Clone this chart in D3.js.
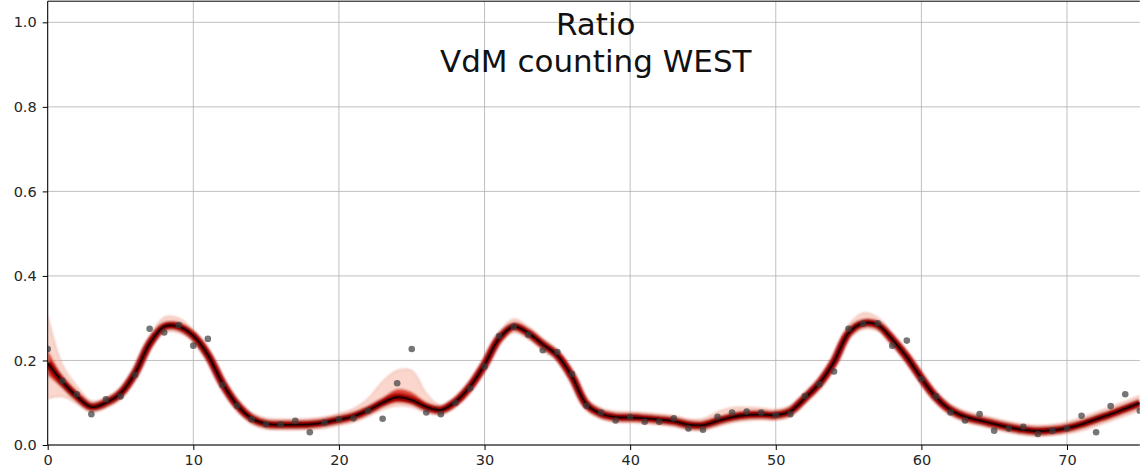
<!DOCTYPE html>
<html>
<head>
<meta charset="utf-8">
<script src="https://cdn.jsdelivr.net/npm/d3@7"></script>
<style>
  html, body { margin: 0; padding: 0; background: #fff; }
  svg { display: block; }
  text { font-family: "DejaVu Sans", sans-serif; }
</style>
</head>
<body>
<svg id="chart" width="1140" height="475"></svg>
<script>
// Bunch index along the scan
const bunch = d3.range(0, 76);

// Measured ratio per bunch (grey markers)
const measured = [
  0.227, 0.152, 0.120, 0.073, 0.108, 0.115, 0.166, 0.275, 0.266, 0.284,
  0.235, 0.251, 0.142, 0.093, 0.061, 0.049, 0.049, 0.057, 0.030, 0.053,
  0.061, 0.063, 0.081, 0.062, 0.146, 0.227, 0.077, 0.073, 0.100, 0.134,
  0.186, 0.258, 0.280, 0.261, 0.224, 0.220, 0.168, 0.093, 0.077, 0.058,
  0.066, 0.055, 0.055, 0.063, 0.039, 0.036, 0.067, 0.077, 0.079, 0.077,
  0.071, 0.073, 0.116, 0.144, 0.174, 0.275, 0.287, 0.288, 0.235, 0.247,
  0.156, 0.115, 0.077, 0.058, 0.073, 0.034, 0.039, 0.043, 0.026, 0.034,
  0.039, 0.069, 0.030, 0.092, 0.120, 0.081
];

// Mean of the fitted curves
const fitMean = [
  0.194, 0.150, 0.115, 0.090, 0.100, 0.122, 0.170, 0.240, 0.280, 0.280,
  0.258, 0.213, 0.146, 0.095, 0.063, 0.050, 0.048, 0.048, 0.049, 0.053,
  0.060, 0.068, 0.082, 0.100, 0.113, 0.106, 0.090, 0.083, 0.102, 0.138,
  0.190, 0.252, 0.280, 0.265, 0.238, 0.212, 0.162, 0.096, 0.074, 0.066,
  0.065, 0.063, 0.060, 0.056, 0.048, 0.047, 0.057, 0.066, 0.071, 0.072,
  0.071, 0.080, 0.111, 0.146, 0.197, 0.265, 0.288, 0.284, 0.250, 0.208,
  0.158, 0.113, 0.083, 0.067, 0.058, 0.050, 0.042, 0.036, 0.033, 0.035,
  0.040, 0.049, 0.061, 0.073, 0.086, 0.099
];

// Full spread of the fitted curves (upper / lower envelope)
const outerHi = [
  0.305, 0.190, 0.140, 0.104, 0.112, 0.135, 0.183, 0.254, 0.302, 0.300,
  0.272, 0.226, 0.159, 0.108, 0.076, 0.063, 0.061, 0.061, 0.062, 0.066,
  0.074, 0.086, 0.110, 0.150, 0.176, 0.176, 0.122, 0.094, 0.115, 0.151,
  0.203, 0.266, 0.298, 0.280, 0.252, 0.225, 0.175, 0.109, 0.087, 0.079,
  0.078, 0.076, 0.073, 0.069, 0.061, 0.062, 0.078, 0.088, 0.089, 0.087,
  0.084, 0.093, 0.124, 0.159, 0.211, 0.284, 0.312, 0.302, 0.264, 0.221,
  0.171, 0.126, 0.096, 0.080, 0.071, 0.063, 0.055, 0.049, 0.046, 0.048,
  0.054, 0.065, 0.077, 0.090, 0.103, 0.117
];
const outerLo = [
  0.110, 0.115, 0.098, 0.078, 0.088, 0.109, 0.157, 0.226, 0.266, 0.266,
  0.244, 0.200, 0.133, 0.082, 0.050, 0.038, 0.036, 0.036, 0.037, 0.040,
  0.047, 0.054, 0.068, 0.084, 0.093, 0.090, 0.077, 0.072, 0.090, 0.125,
  0.177, 0.238, 0.266, 0.251, 0.224, 0.199, 0.149, 0.083, 0.062, 0.054,
  0.053, 0.051, 0.048, 0.044, 0.036, 0.035, 0.044, 0.053, 0.058, 0.060,
  0.059, 0.067, 0.098, 0.133, 0.183, 0.250, 0.274, 0.270, 0.236, 0.195,
  0.145, 0.100, 0.070, 0.055, 0.046, 0.038, 0.030, 0.024, 0.021, 0.023,
  0.027, 0.034, 0.045, 0.057, 0.069, 0.082
];

// Dense core of the fitted curves
const innerHi = [
  0.225, 0.165, 0.125, 0.097, 0.107, 0.129, 0.177, 0.247, 0.288, 0.288,
  0.265, 0.220, 0.153, 0.102, 0.070, 0.057, 0.055, 0.055, 0.056, 0.060,
  0.067, 0.076, 0.091, 0.112, 0.132, 0.125, 0.101, 0.089, 0.109, 0.145,
  0.197, 0.259, 0.288, 0.272, 0.245, 0.219, 0.169, 0.103, 0.081, 0.073,
  0.072, 0.070, 0.067, 0.063, 0.055, 0.055, 0.066, 0.075, 0.079, 0.079,
  0.078, 0.087, 0.118, 0.153, 0.204, 0.273, 0.296, 0.292, 0.257, 0.215,
  0.165, 0.120, 0.090, 0.074, 0.065, 0.057, 0.049, 0.043, 0.040, 0.042,
  0.047, 0.057, 0.069, 0.081, 0.094, 0.107
];
const innerLo = [
  0.165, 0.135, 0.105, 0.083, 0.093, 0.115, 0.163, 0.233, 0.272, 0.272,
  0.251, 0.206, 0.139, 0.088, 0.056, 0.043, 0.041, 0.041, 0.042, 0.046,
  0.053, 0.061, 0.074, 0.090, 0.100, 0.096, 0.082, 0.077, 0.096, 0.131,
  0.183, 0.245, 0.272, 0.258, 0.231, 0.205, 0.155, 0.089, 0.067, 0.059,
  0.058, 0.056, 0.053, 0.049, 0.041, 0.040, 0.049, 0.058, 0.063, 0.065,
  0.064, 0.073, 0.104, 0.139, 0.190, 0.257, 0.280, 0.276, 0.243, 0.201,
  0.151, 0.106, 0.076, 0.060, 0.051, 0.043, 0.035, 0.029, 0.026, 0.028,
  0.033, 0.041, 0.053, 0.065, 0.078, 0.091
];

// Axis ticks
const xTicks = [0, 10, 20, 30, 40, 50, 60, 70];
const yTicks = [0.0, 0.2, 0.4, 0.6, 0.8, 1.0];
const titleLines = ["Ratio", "VdM counting WEST"];

const svg = d3.select("#chart");
const plotL = 47.7, plotR = 1139.8, plotT = 1.2, plotB = 445;

const x = d3.scaleLinear().domain([0, 75]).range([plotL, plotR]);
const y = d3.scaleLinear().domain([0, 1.05]).range([plotB, plotT]);

const defs = svg.append("defs");
defs.append("clipPath").attr("id", "plot-clip")
  .append("rect").attr("x", plotL).attr("y", plotT)
  .attr("width", plotR - plotL).attr("height", plotB - plotT);
defs.append("filter").attr("id", "soft")
  .attr("x", "-5%").attr("y", "-20%").attr("width", "110%").attr("height", "140%")
  .append("feGaussianBlur").attr("stdDeviation", 0.8);

// Grid
const grid = svg.append("g").attr("stroke", "#b0b0b0").attr("stroke-width", 0.8);
grid.selectAll("line.gx").data(xTicks).join("line").attr("class", "gx")
  .attr("x1", d => x(d)).attr("x2", d => x(d))
  .attr("y1", plotT).attr("y2", plotB);
grid.selectAll("line.gy").data(yTicks).join("line").attr("class", "gy")
  .attr("x1", plotL).attr("x2", plotR)
  .attr("y1", d => y(d)).attr("y2", d => y(d));

const plot = svg.append("g").attr("clip-path", "url(#plot-clip)");
const curve = d3.curveCatmullRom.alpha(0.5);

const band = (hi, lo) => d3.area()
  .x(d => x(d)).y0(d => y(lo[d])).y1(d => y(hi[d])).curve(curve);
const lineOf = arr => d3.line().x(d => x(d)).y(d => y(arr[d])).curve(curve);

const fits = plot.append("g").attr("filter", "url(#soft)");

// Outer envelope of the fit ensemble
fits.append("path").attr("d", band(outerHi, outerLo)(bunch))
  .attr("fill", "#f3a48f").attr("fill-opacity", 0.45);
fits.append("path").attr("d", lineOf(outerHi)(bunch))
  .attr("fill", "none").attr("stroke", "#e59a88").attr("stroke-width", 0.8);
fits.append("path").attr("d", lineOf(outerLo)(bunch))
  .attr("fill", "none").attr("stroke", "#e59a88").attr("stroke-width", 0.8);

// Dense core
fits.append("path").attr("d", band(innerHi, innerLo)(bunch))
  .attr("fill", "#d7301f").attr("fill-opacity", 0.85);
fits.append("path").attr("d", lineOf(fitMean)(bunch))
  .attr("fill", "none").attr("stroke", "#b80000").attr("stroke-width", 8.5)
  .attr("stroke-opacity", 0.9);
fits.append("path").attr("d", lineOf(fitMean)(bunch))
  .attr("fill", "none").attr("stroke", "#7a0000").attr("stroke-width", 5);

// Mean fit
plot.append("path").attr("d", lineOf(fitMean)(bunch))
  .attr("fill", "none").attr("stroke", "#1a0000").attr("stroke-width", 1.8);

// Measured points
plot.selectAll("circle.pt").data(bunch).join("circle")
  .attr("class", "pt")
  .attr("cx", d => x(d)).attr("cy", d => y(measured[d]))
  .attr("r", 3.3)
  .attr("fill", "#3c3c3c").attr("fill-opacity", 0.7);

// Spines (right edge falls outside the canvas)
const spines = svg.append("g").attr("stroke", "#000").attr("stroke-width", 1);
spines.append("line").attr("x1", plotL).attr("x2", plotL).attr("y1", plotT).attr("y2", plotB);
spines.append("line").attr("x1", plotL).attr("x2", plotR).attr("y1", plotB).attr("y2", plotB);
spines.append("line").attr("x1", plotL).attr("x2", plotR).attr("y1", plotT).attr("y2", plotT);

// Axes
const xAxis = d3.axisBottom(x).tickValues(xTicks).tickFormat(d3.format("d"))
  .tickSize(5).tickPadding(5);
const yAxis = d3.axisLeft(y).tickValues(yTicks).tickFormat(d3.format(".1f"))
  .tickSize(5).tickPadding(6);

const gx = svg.append("g").attr("transform", `translate(0,${plotB})`).call(xAxis);
const gy = svg.append("g").attr("transform", `translate(${plotL},0)`).call(yAxis);
[gx, gy].forEach(g => {
  g.select(".domain").remove();
  g.selectAll(".tick line").attr("stroke", "#000");
  g.selectAll(".tick text").attr("fill", "#262626")
    .style("font-family", '"DejaVu Sans", sans-serif').style("font-size", "14.5px");
});

// Title
svg.append("g").selectAll("text").data(titleLines).join("text")
  .attr("x", (plotL + plotR) / 2 + 2)
  .attr("y", (d, i) => 35 + i * 37)
  .attr("text-anchor", "middle")
  .attr("fill", "#111")
  .style("font-size", "31px")
  .text(d => d);
</script>
</body>
</html>
